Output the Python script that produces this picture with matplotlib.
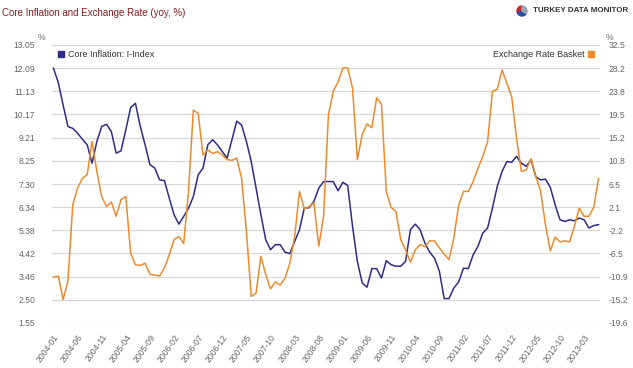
import numpy as np
import matplotlib
matplotlib.use('Agg')
import matplotlib.pyplot as plt
from matplotlib.lines import Line2D
from matplotlib.patches import Wedge

# monthly data, 2004-01 .. 2013-06
core_inflation = [
    12.09, 11.5, 10.57, 9.68, 9.6, 9.4, 9.15, 8.92, 8.16, 9.06,
    9.68, 9.77, 9.47, 8.58, 8.67, 9.54, 10.46, 10.64, 9.68, 8.92,
    8.1, 7.96, 7.47, 7.44, 6.72, 6.03, 5.64, 5.96, 6.3, 6.78,
    7.68, 7.96, 8.92, 9.13, 8.92, 8.64, 8.37, 9.13, 9.9, 9.74,
    9.06, 8.23, 7.13, 6.03, 5.0, 4.58, 4.79, 4.79, 4.48, 4.42,
    4.92, 5.41, 6.3, 6.32, 6.58, 7.13, 7.4, 7.4, 7.4, 7.02,
    7.37, 7.24, 5.55, 4.1, 3.21, 3.03, 3.8, 3.8, 3.41, 4.13,
    3.96, 3.9, 3.9, 4.1, 5.41, 5.64, 5.41, 4.86, 4.48, 4.23,
    3.69, 2.56, 2.56, 3.0, 3.25, 3.82, 3.8, 4.37, 4.72, 5.27,
    5.48, 6.3, 7.2, 7.82, 8.23, 8.2, 8.44, 8.16, 8.03, 8.3,
    7.6, 7.47, 7.5, 7.16, 6.44, 5.82, 5.75, 5.82, 5.78, 5.89,
    5.82, 5.48, 5.58, 5.62,
]
exchange_rate = [
    -11.0, -10.8, -15.2, -11.8, 2.5, 5.7, 7.5, 8.2, 14.4, 8.8,
    4.1, 2.2, 3.06, 0.4, 3.5, 4.1, -6.5, -8.7, -8.8, -8.4,
    -10.5, -10.6, -10.8, -9.3, -6.8, -4.0, -3.4, -4.7, 5.06, 20.3,
    19.7, 11.9, 12.8, 12.2, 12.5, 11.9, 11.0, 10.9, 11.3, 7.5,
    -2.4, -14.6, -14.0, -7.1, -10.5, -13.2, -11.9, -12.5, -11.2, -8.4,
    -3.4, 5.06, 1.8, 2.2, 2.9, -5.2, 0.4, 19.4, 23.8, 25.6,
    28.2, 28.2, 24.4, 11.0, 15.7, 17.7, 17.0, 22.6, 21.4, 5.06,
    2.06, 1.3, -4.0, -5.9, -8.2, -5.9, -4.9, -5.3, -4.2, -4.2,
    -5.5, -6.7, -7.7, -3.7, 2.5, 5.06, 5.06, 6.9, 9.4, 11.6,
    14.4, 23.8, 24.2, 27.8, 25.3, 22.8, 15.0, 8.8, 9.1, 11.2,
    7.85, 5.06, -1.2, -6.1, -3.5, -4.4, -4.2, -4.4, -1.5, 1.9,
    0.4, 0.4, 2.1, 7.5,
]
x_labels = ['2004-01', '2004-06', '2004-11', '2005-04', '2005-09', '2006-02',
            '2006-07', '2006-12', '2007-05', '2007-10', '2008-03', '2008-08',
            '2009-01', '2009-06', '2009-11', '2010-04', '2010-09', '2011-02',
            '2011-07', '2011-12', '2012-05', '2012-10', '2013-03']
left_labels = ['1.55', '2.50', '3.46', '4.42', '5.38', '6.34', '7.30',
               '8.25', '9.21', '10.17', '11.13', '12.09', '13.05']
right_labels = ['-19.6', '-15.2', '-10.9', '-6.5', '-2.2', '2.1', '6.5',
                '10.8', '15.2', '19.5', '23.8', '28.2', '32.5']

plt.rcParams['font.family'] = ['Liberation Sans', 'DejaVu Sans']

BLUE = '#2f2c86'
ORANGE = '#ec8a2e'
GRAY = '#666666'

fig = plt.figure(figsize=(6.33, 3.68), dpi=100)
ax = fig.add_axes([52 / 633, 1 - 323 / 368, 548 / 633, 278 / 368])
ax2 = ax.twinx()

months = np.arange(len(core_inflation))
ax.plot(months, core_inflation, color=BLUE, lw=1.1)
ax2.plot(months, exchange_rate, color=ORANGE, lw=1.1)

ax.set_xlim(-0.3, len(core_inflation) - 0.7)
ax.set_ylim(1.55, 13.05)
ax2.set_ylim(-19.6, 32.5)
ax.set_yticks(np.linspace(1.55, 13.05, 13))
ax.set_yticklabels(left_labels)
ax2.set_yticks(np.linspace(-19.6, 32.5, 13))
ax2.set_yticklabels(right_labels)
ax.set_xticks(np.arange(0, len(core_inflation), 5)[:len(x_labels)])
ax.set_xticklabels(x_labels, rotation=55, ha='right', va='top',
                   rotation_mode='anchor', fontsize=6)

ax.grid(axis='y', color='#d8d8d8', lw=0.9)
ax.set_axisbelow(True)
for a in (ax, ax2):
    for s in a.spines.values():
        s.set_visible(False)
    a.tick_params(length=0, colors=GRAY, labelsize=6.2)
ax.tick_params(axis='y', pad=12)
ax2.tick_params(axis='y', pad=6)
ax.tick_params(axis='x', pad=7)

fig.text(42 / 633, 1 - 37 / 368, '%', color=GRAY, fontsize=6.2, ha='center', va='center')
fig.text(610 / 633, 1 - 37 / 368, '%', color=GRAY, fontsize=6.2, ha='center', va='center')

# legends
h1 = Line2D([], [], color=BLUE, marker='s', ls='none', markersize=5)
h2 = Line2D([], [], color=ORANGE, marker='s', ls='none', markersize=5)
ax.legend([h1], ['Core Inflation: I-Index'], loc='upper left', frameon=False,
          fontsize=6.5, handletextpad=0.2, borderaxespad=0.15,
          handlelength=1.0, labelcolor='#333333')
ax2.legend([h2], ['Exchange Rate Basket'], loc='upper right', frameon=False,
           fontsize=6.5, handletextpad=0.2, borderaxespad=0.15, handlelength=1.0,
           markerfirst=False, labelcolor='#333333')

# title and logo
fig.text(2 / 633, 1 - 13 / 368, 'Core Inflation and Exchange Rate (yoy, %)',
         color='#8b1c22', fontsize=7, ha='left', va='center')
fig.text(628 / 633, 1 - 11 / 368, 'TURKEY DATA MONITOR', color='#333333',
         fontsize=5.8, fontweight='bold', ha='right', va='center')
for t1, t2, c in [(90, 200, '#c8262c'), (200, 330, '#2f4fa0'), (330, 450, '#9aa3b5')]:
    fig.patches.append(Wedge((522, 368 - 11), 5, t1, t2, color=c,
                             transform=None, figure=fig))

fig.savefig('out.png', dpi=100)
